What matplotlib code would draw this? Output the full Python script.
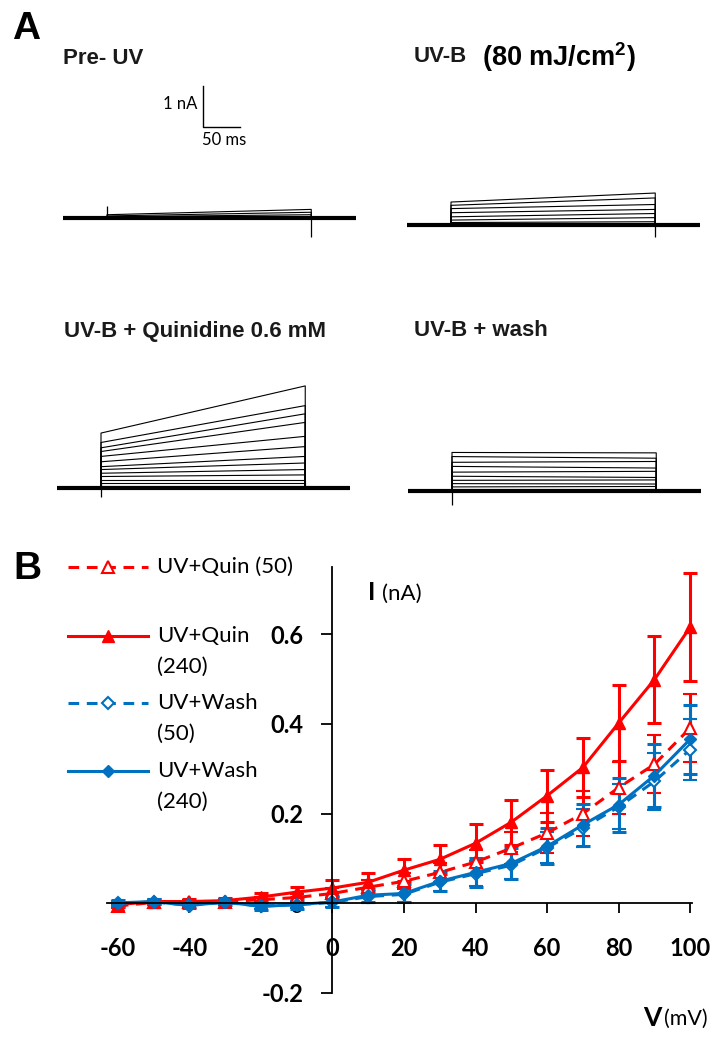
import matplotlib
matplotlib.use('Agg')
import matplotlib.pyplot as plt

plt.rcParams['mathtext.fontset'] = 'custom'
plt.rcParams['mathtext.rm'] = 'Liberation Sans'
plt.rcParams['mathtext.bf'] = 'Liberation Sans:bold'

# ---------------- data ----------------
# Panel A: step amplitudes (nA) at start and end of the voltage step for each sweep
pre_start = [0.08, 0.05, 0.03]
pre_end = [0.21, 0.14, 0.08]
uvb_start = [0.56, 0.48, 0.40, 0.30, 0.20, 0.12, 0.06]
uvb_end = [0.78, 0.66, 0.50, 0.38, 0.28, 0.18, 0.08]
quin_start = [1.34, 1.11, 0.98, 0.89, 0.77, 0.64, 0.52, 0.45, 0.36, 0.28, 0.20, 0.12, 0.05]
quin_end = [2.49, 2.01, 1.81, 1.60, 1.26, 1.01, 0.77, 0.61, 0.45, 0.32, 0.20, 0.12, 0.05]
wash_start = [0.94, 0.84, 0.70, 0.60, 0.46, 0.36, 0.26, 0.18, 0.10, 0.05]
wash_end = [0.93, 0.80, 0.72, 0.56, 0.48, 0.33, 0.27, 0.17, 0.11, 0.05]
# capacitive spikes (nA) at step onset / offset
spikes_on = {'pre': 0.30, 'uvb': 0.0, 'quin': -0.22, 'wash': -0.34}
spikes_off = {'pre': -0.46, 'uvb': -0.30, 'quin': 0.0, 'wash': 0.0}

# Panel B: I-V data
V = [-60, -50, -40, -30, -20, -10, 0, 10, 20, 30, 40, 50, 60, 70, 80, 90, 100]
quin50 = [-0.006, 0.002, 0.003, 0.004, 0.008, 0.013, 0.022, 0.036, 0.049, 0.069, 0.092, 0.123, 0.157, 0.200, 0.258, 0.310, 0.391]
quin50_err = [0.005, 0.005, 0.005, 0.005, 0.006, 0.008, 0.012, 0.015, 0.018, 0.022, 0.028, 0.035, 0.045, 0.050, 0.058, 0.065, 0.075]
quin240 = [-0.003, 0.004, 0.004, 0.006, 0.014, 0.025, 0.034, 0.047, 0.074, 0.098, 0.134, 0.181, 0.240, 0.303, 0.402, 0.499, 0.616]
quin240_err = [0.005, 0.005, 0.005, 0.006, 0.008, 0.012, 0.018, 0.020, 0.025, 0.032, 0.042, 0.050, 0.058, 0.065, 0.085, 0.098, 0.120]
wash50 = [0.000, 0.003, -0.004, 0.002, -0.006, -0.003, 0.002, 0.015, 0.020, 0.047, 0.066, 0.085, 0.124, 0.168, 0.215, 0.272, 0.343]
wash50_err = [0.005, 0.005, 0.005, 0.005, 0.006, 0.008, 0.010, 0.015, 0.018, 0.020, 0.028, 0.030, 0.035, 0.043, 0.050, 0.063, 0.068]
wash240 = [0.001, 0.004, -0.005, 0.003, -0.007, -0.003, 0.003, 0.018, 0.022, 0.049, 0.069, 0.089, 0.127, 0.175, 0.220, 0.285, 0.366]
wash240_err = [0.006, 0.006, 0.006, 0.006, 0.008, 0.010, 0.012, 0.015, 0.020, 0.022, 0.032, 0.035, 0.040, 0.047, 0.060, 0.070, 0.077]

xticks = [-60, -40, -20, 0, 20, 40, 60, 80, 100]
yticks = [-0.2, 0, 0.2, 0.4, 0.6]
ytick_labels = ['-0.2', '0', '0.2', '0.4', '0.6']

RED = '#FF0000'
BLUE = '#0070C0'

# ---------------- figure ----------------
W, H = 721, 1050
fig = plt.figure(figsize=(W / 100, H / 100), dpi=100)


def px_axes(x0, y0, w, h):
    return fig.add_axes([x0 / W, 1 - (y0 + h) / H, w / W, h / H])


# full-figure overlay for free text (pixel coordinates)
ov = fig.add_axes([0, 0, 1, 1])
ov.set_xlim(0, W)
ov.set_ylim(H, 0)
ov.axis('off')

TFONT = 'Liberation Sans'
LFONT = 'Lato'

# ---------------- Panel A ----------------
PX_MS, PX_NA = 0.74, 41.0
T_ON, T_OFF, T_END = 60, 336, 396
YMIN, YMAX = -0.7, 3.5


def trace_axes(x_on_px, base_px):
    x0 = x_on_px - T_ON * PX_MS
    ax = px_axes(x0, base_px - YMAX * PX_NA, T_END * PX_MS, (YMAX - YMIN) * PX_NA)
    ax.set_xlim(0, T_END)
    ax.set_ylim(YMIN, YMAX)
    ax.axis('off')
    return ax


def draw_traces(ax, starts, ends, key):
    for a0, a1 in zip(starts, ends):
        ax.plot([0, T_ON, T_ON, T_OFF, T_OFF, T_END], [0, 0, a0, a1, 0, 0],
                color='black', lw=0.8)
    ax.plot([0, T_END], [0, 0], color='black', lw=3.0, solid_capstyle='butt')
    ax.vlines([T_ON, T_OFF], 0, [spikes_on[key], spikes_off[key]], color='black', lw=0.9)


ax_pre = trace_axes(107, 218)
draw_traces(ax_pre, pre_start, pre_end, 'pre')
# scale bar: 1 nA, 50 ms
sb_t, sb_y = 190, 2.22
ax_pre.plot([sb_t, sb_t, sb_t + 50], [sb_y + 1, sb_y, sb_y], color='black', lw=1.0)
ax_pre.text(sb_t - 8, sb_y + 0.55, '1 nA', ha='right', va='center', fontsize=12, family=LFONT)
ax_pre.text(sb_t - 1, sb_y - 0.32, '50 ms', ha='left', va='center', fontsize=12, family=LFONT)

ax_uvb = trace_axes(451, 225)
draw_traces(ax_uvb, uvb_start, uvb_end, 'uvb')
ax_quin = trace_axes(101, 488)
draw_traces(ax_quin, quin_start, quin_end, 'quin')
ax_wash = trace_axes(452, 491)
draw_traces(ax_wash, wash_start, wash_end, 'wash')

ov.text(12, 29, 'A', fontsize=28, fontweight='bold', family='Liberation Sans', va='center', ha='left')
ov.text(63, 58, 'Pre- UV', fontsize=16, fontweight='bold', family=TFONT, va='center', ha='left', color='#1a1a1a')
ov.text(414, 57, 'UV-B', fontsize=16, fontweight='bold', family=TFONT, va='center', ha='left', color='#1a1a1a')
ov.text(482, 57, r'(80 mJ/cm$^{\mathbf{2}}$)', fontsize=19.5, fontweight='bold', family=TFONT, va='center', ha='left')
ov.text(64, 331, 'UV-B + Quinidine 0.6 mM', fontsize=16, fontweight='bold', family=TFONT, va='center', ha='left', color='#1a1a1a')
ov.text(414, 331, 'UV-B + wash', fontsize=16, fontweight='bold', family=TFONT, va='center', ha='left', color='#1a1a1a')

# ---------------- Panel B ----------------
ov.text(13, 569, 'B', fontsize=28, fontweight='bold', family='Liberation Sans', va='center', ha='left')

ax = px_axes(107, 567, 585, 426)
ax.set_xlim(-63, 100.5)
ax.set_ylim(-0.2, 0.75)
for s in ['top', 'right']:
    ax.spines[s].set_visible(False)
ax.spines['left'].set_position(('data', 0))
ax.spines['bottom'].set_position(('data', 0))
for s in ['left', 'bottom']:
    ax.spines[s].set_linewidth(1.3)
ax.set_xticks(xticks)
ax.set_xticklabels([str(v) for v in xticks])
ax.set_yticks(yticks)
ax.set_yticklabels(ytick_labels)
ax.tick_params(axis='x', direction='out', length=7, width=1.3, pad=17)
ax.tick_params(axis='y', direction='out', length=8, width=1.3, pad=13)
for lab in ax.get_xticklabels() + ax.get_yticklabels():
    lab.set_fontfamily(LFONT)
    lab.set_fontweight('bold')
    lab.set_fontsize(17)
ax.patch.set_alpha(0)

DASH = (0, (3.5, 2.5))
common = dict(capsize=5, capthick=2.2, elinewidth=2.2, lw=2.2, clip_on=False)
styles = [
    (quin50, quin50_err, dict(color=RED, ls=DASH, marker='^', mfc='white', mec=RED, ms=8, mew=1.5)),
    (quin240, quin240_err, dict(color=RED, ls='-', marker='^', mfc=RED, mec=RED, ms=8)),
    (wash50, wash50_err, dict(color=BLUE, ls=DASH, marker='D', mfc='white', mec=BLUE, ms=6, mew=1.5)),
    (wash240, wash240_err, dict(color=BLUE, ls='-', marker='D', mfc=BLUE, mec=BLUE, ms=6)),
]
for yv, ye, st in styles:
    ax.errorbar(V, yv, yerr=ye, **st, **common)

ov.text(368, 593, 'I', fontsize=18, fontweight='bold', family=LFONT, va='center', ha='left')
ov.text(382, 594, '(nA)', fontsize=16, family=LFONT, va='center', ha='left')
ov.text(643, 1018, 'V', fontsize=19, fontweight='bold', family=LFONT, va='center', ha='left')
ov.text(664, 1019, '(mV)', fontsize=15.5, family=LFONT, va='center', ha='left')

# legend (drawn manually)
leg_entries = [
    (567, ['UV+Quin (50)'], styles[0][2]),
    (636, ['UV+Quin', '(240)'], styles[1][2]),
    (703, ['UV+Wash', '(50)'], styles[2][2]),
    (771, ['UV+Wash', '(240)'], styles[3][2]),
]
for y, lines, st in leg_entries:
    ov.plot([68, 148], [y, y], color=st['color'], ls=st['ls'], lw=2.2)
    ov.plot([108], [y], marker=st['marker'], mfc=st['mfc'], mec=st['mec'],
            ms=st['ms'], mew=st.get('mew', 1.0), ls='none')
    for i, t in enumerate(lines):
        ov.text(157, y + i * 31, t, fontsize=16, family=LFONT, va='center', ha='left')

fig.savefig('out.png', dpi=100)
